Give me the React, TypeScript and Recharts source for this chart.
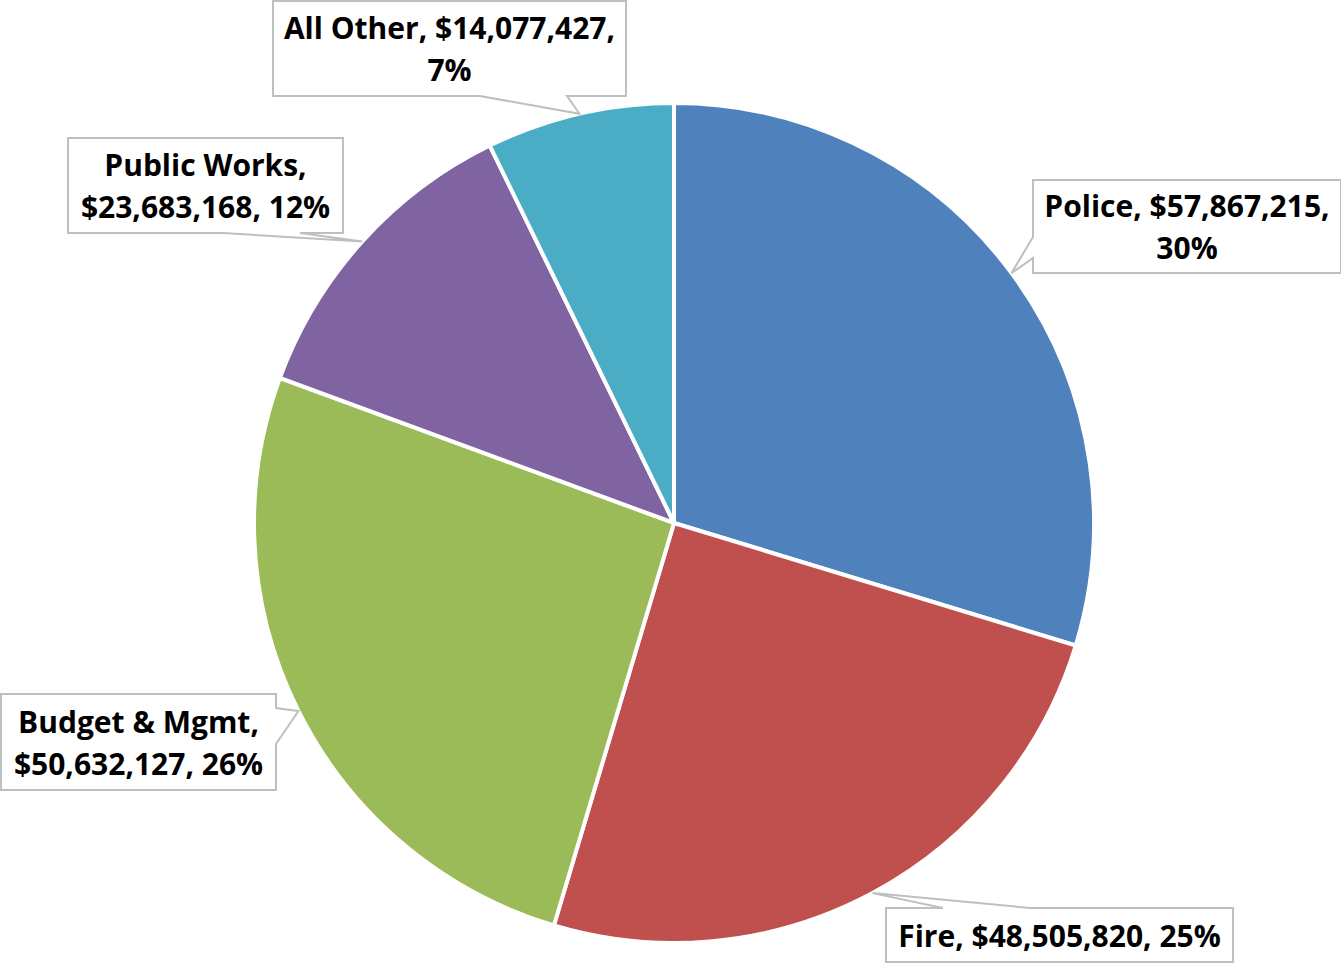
import React from "react";
import { PieChart, Pie, Cell } from "recharts";

const categories = ["Police", "Fire", "Budget & Mgmt", "Public Works", "All Other"];
const amounts = [57867215, 48505820, 50632127, 23683168, 14077427];
const colors = ["#4F81BD", "#C0504D", "#9BBB59", "#8064A2", "#4BACC6"];

// callout box layout relative to pie center (styling only)
// side: which box edge the pointer leaves from; p1/p2: pointer base along that edge
// split: where the label text wraps ("name" after name, "value" after amount, "none")
const calloutLayout = [
  { dx: 359, dy: -343, w: 308, h: 93, side: "left", p1: 57, p2: 78, split: "value" },
  { dx: 212, dy: 385, w: 347, h: 54, side: "top", p1: 57, p2: 144, split: "none" },
  { dx: -673, dy: 171, w: 275, h: 96, side: "right", p1: 14, p2: 50, split: "name" },
  { dx: -606, dy: -385, w: 275, h: 95, side: "bottom", p1: 155, p2: 232, split: "name" },
  { dx: -401, dy: -522, w: 353, h: 95, side: "bottom", p1: 207, p2: 294, split: "value" },
];

const data = categories.map((name, i) => ({ name, value: amounts[i] }));

const fmt = (v: number) => "$" + v.toLocaleString("en-US");

const RAD = Math.PI / 180;

const renderCallout = (props: any) => {
  const { cx, cy, midAngle, outerRadius, index, percent, name, value } = props;
  const L = calloutLayout[index];
  const tipX = cx + Math.cos(-midAngle * RAD) * outerRadius;
  const tipY = cy + Math.sin(-midAngle * RAD) * outerRadius;
  const x0 = cx + L.dx;
  const y0 = cy + L.dy;
  const x1 = x0 + L.w;
  const y1 = y0 + L.h;
  const pct = Math.round(percent * 100) + "%";
  const amt = fmt(value);
  let lines: string[];
  if (L.split === "name") lines = [`${name},`, `${amt}, ${pct}`];
  else if (L.split === "value") lines = [`${name}, ${amt},`, pct];
  else lines = [`${name}, ${amt}, ${pct}`];

  let d = "";
  if (L.side === "left") {
    d = `M${x0},${y0} L${x1},${y0} L${x1},${y1} L${x0},${y1} L${x0},${y0 + L.p2} L${tipX},${tipY} L${x0},${y0 + L.p1} Z`;
  } else if (L.side === "right") {
    d = `M${x0},${y0} L${x1},${y0} L${x1},${y0 + L.p1} L${tipX},${tipY} L${x1},${y0 + L.p2} L${x1},${y1} L${x0},${y1} Z`;
  } else if (L.side === "top") {
    d = `M${x0},${y0} L${x0 + L.p1},${y0} L${tipX},${tipY} L${x0 + L.p2},${y0} L${x1},${y0} L${x1},${y1} L${x0},${y1} Z`;
  } else {
    d = `M${x0},${y0} L${x1},${y0} L${x1},${y1} L${x0 + L.p2},${y1} L${tipX},${tipY} L${x0 + L.p1},${y1} L${x0},${y1} Z`;
  }
  const lh = 42;
  const midY = (y0 + y1) / 2;
  const startY = midY - ((lines.length - 1) * lh) / 2;
  return (
    <g key={`callout-${index}`}>
      <path d={d} fill="#FFFFFF" stroke="#BFBFBF" strokeWidth={2} />
      <text
        x={(x0 + x1) / 2}
        textAnchor="middle"
        fontFamily="'Open Sans', sans-serif"
        fontWeight={700}
        fontSize={30}
        fill="#000000"
      >
        {lines.map((t, i) => (
          <tspan key={i} x={(x0 + x1) / 2} y={startY + i * lh} dominantBaseline="central">
            {t}
          </tspan>
        ))}
      </text>
    </g>
  );
};

export default function App() {
  return (
    <div style={{ width: 1341, height: 964, background: "#FFFFFF" }}>
      <style>{`body{margin:0;}`}</style>
      <PieChart width={1341} height={964} margin={{ top: 0, right: 0, bottom: 0, left: 0 }}>
        <Pie
          data={data}
          dataKey="value"
          nameKey="name"
          cx={674}
          cy={523}
          outerRadius={420}
          startAngle={90}
          endAngle={-270}
          stroke="#FFFFFF"
          strokeWidth={4}
          label={renderCallout}
          labelLine={false}
          isAnimationActive={false}
        >
          {data.map((d, i) => (
            <Cell key={d.name} fill={colors[i]} />
          ))}
        </Pie>
      </PieChart>
    </div>
  );
}
